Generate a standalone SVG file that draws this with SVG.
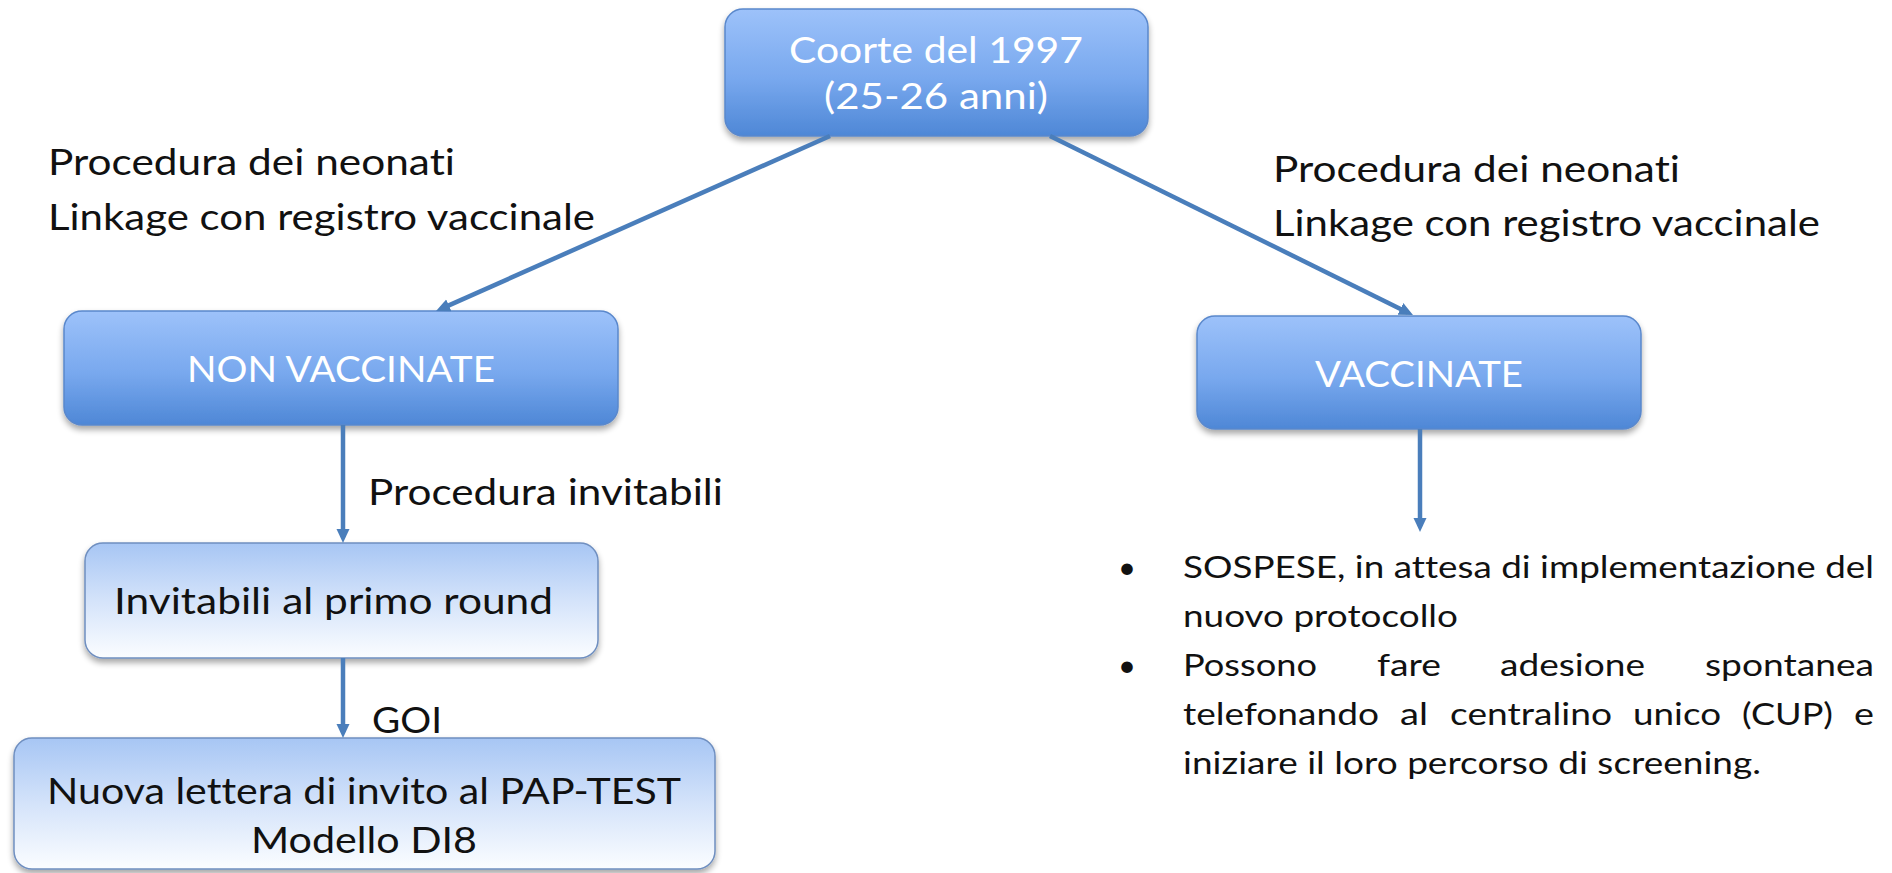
<svg xmlns="http://www.w3.org/2000/svg" width="1892" height="873" viewBox="0 0 1892 873">
<style>
  text { font-variant-ligatures: none; font-feature-settings: "liga" 0, "clig" 0, "dlig" 0; letter-spacing: 0.01px; }
  .lbl { font-family: Lato, "Open Sans", "Liberation Sans", sans-serif; font-size: 36px; fill: #111111; }
  .wt { font-family: Lato, "Open Sans", "Liberation Sans", sans-serif; font-size: 36px; fill: #ffffff; }
  .blt { font-family: Lato, "Open Sans", "Liberation Sans", sans-serif; font-size: 31px; fill: #111111; }
  .bluebox { fill: url(#gBlue); stroke: #5a88cc; stroke-width: 1.5; filter: url(#shadow); }
  .lightbox { fill: url(#gLight); stroke: #6f8fc0; stroke-width: 1.5; filter: url(#shadow); }
  .conn { stroke: #4a7ebb; stroke-width: 4.5; fill: none; marker-end: url(#arr); }
</style>
<defs>
  <linearGradient id="gBlue" x1="0" y1="0" x2="0" y2="1">
    <stop offset="0" stop-color="#9dc2fa"/>
    <stop offset="0.55" stop-color="#78a8ee"/>
    <stop offset="1" stop-color="#4e87d6"/>
  </linearGradient>
  <linearGradient id="gLight" x1="0" y1="0" x2="0" y2="1">
    <stop offset="0" stop-color="#a7c6f4"/>
    <stop offset="0.5" stop-color="#d4e3fa"/>
    <stop offset="1" stop-color="#fbfdff"/>
  </linearGradient>
  <filter id="shadow" x="-10%" y="-10%" width="120%" height="130%">
    <feGaussianBlur in="SourceAlpha" stdDeviation="3"/>
    <feOffset dx="0" dy="4" result="b"/>
    <feComponentTransfer><feFuncA type="linear" slope="0.35"/></feComponentTransfer>
    <feMerge><feMergeNode/><feMergeNode in="SourceGraphic"/></feMerge>
  </filter>
  <marker id="arr" markerUnits="userSpaceOnUse" markerWidth="16" markerHeight="14" refX="8" refY="6.5" orient="auto">
    <path d="M0,0 L14,6.5 L0,13 z" fill="#4a7ebb"/>
  </marker>
</defs>
<rect width="1892" height="873" fill="#ffffff"/>

<g id="node-coorte">
  <rect class="bluebox" x="725" y="9" width="423" height="127" rx="18"/>
  <text class="wt" x="936" y="63" text-anchor="middle" textLength="294" lengthAdjust="spacingAndGlyphs">Coorte del 1997</text>
  <text class="wt" x="936" y="109" text-anchor="middle" textLength="224" lengthAdjust="spacingAndGlyphs">(25-26 anni)</text>
</g>

<g id="label-left">
  <text class="lbl" x="48" y="175" textLength="407" lengthAdjust="spacingAndGlyphs">Procedura dei neonati</text>
  <text class="lbl" x="48" y="230" textLength="547" lengthAdjust="spacingAndGlyphs">Linkage con registro vaccinale</text>
</g>

<g id="label-right">
  <text class="lbl" x="1273" y="182" textLength="407" lengthAdjust="spacingAndGlyphs">Procedura dei neonati</text>
  <text class="lbl" x="1273" y="236" textLength="547" lengthAdjust="spacingAndGlyphs">Linkage con registro vaccinale</text>
</g>

<g id="node-nonvacc">
  <rect class="bluebox" x="64" y="311" width="554" height="114" rx="18"/>
  <text class="wt" x="341" y="382" text-anchor="middle" textLength="308" lengthAdjust="spacingAndGlyphs">NON VACCINATE</text>
</g>

<g id="node-vacc">
  <rect class="bluebox" x="1197" y="316" width="444" height="113" rx="18"/>
  <text class="wt" x="1419" y="387" text-anchor="middle" textLength="208" lengthAdjust="spacingAndGlyphs">VACCINATE</text>
</g>

<g id="label-invitabili">
  <text class="lbl" x="368" y="505" textLength="355" lengthAdjust="spacingAndGlyphs">Procedura invitabili</text>
</g>

<g id="node-invitabili">
  <rect class="lightbox" x="85" y="543" width="513" height="115" rx="18"/>
  <text class="lbl" x="114" y="614" textLength="439" lengthAdjust="spacingAndGlyphs">Invitabili al primo round</text>
</g>

<g id="label-goi">
  <text class="lbl" x="372" y="733" textLength="70" lengthAdjust="spacingAndGlyphs">GOI</text>
</g>

<g id="node-lettera">
  <rect class="lightbox" x="14" y="738" width="701" height="131" rx="18"/>
  <text class="lbl" x="364" y="804" text-anchor="middle" textLength="634" lengthAdjust="spacingAndGlyphs">Nuova lettera di invito al PAP-TEST</text>
  <text class="lbl" x="364" y="853" text-anchor="middle" textLength="226" lengthAdjust="spacingAndGlyphs">Modello DI8</text>
</g>

<g id="bullets">
  <text class="blt" x="1118" y="578">•</text>
  <text class="blt" x="1183" y="578" textLength="691" lengthAdjust="spacingAndGlyphs">SOSPESE, in attesa di implementazione del</text>
  <text class="blt" x="1183" y="627" textLength="275" lengthAdjust="spacingAndGlyphs">nuovo protocollo</text>
  <text class="blt" x="1118" y="676">•</text>
  <text class="blt" x="1183" y="676" textLength="134" lengthAdjust="spacingAndGlyphs">Possono</text>
  <text class="blt" x="1377" y="676" textLength="64" lengthAdjust="spacingAndGlyphs">fare</text>
  <text class="blt" x="1500" y="676" textLength="145" lengthAdjust="spacingAndGlyphs">adesione</text>
  <text class="blt" x="1705" y="676" textLength="169" lengthAdjust="spacingAndGlyphs">spontanea</text>
  <text class="blt" x="1183" y="725" textLength="196" lengthAdjust="spacingAndGlyphs">telefonando</text>
  <text class="blt" x="1400" y="725" textLength="28" lengthAdjust="spacingAndGlyphs">al</text>
  <text class="blt" x="1450" y="725" textLength="162" lengthAdjust="spacingAndGlyphs">centralino</text>
  <text class="blt" x="1633" y="725" textLength="88" lengthAdjust="spacingAndGlyphs">unico</text>
  <text class="blt" x="1742" y="725" textLength="91" lengthAdjust="spacingAndGlyphs">(CUP)</text>
  <text class="blt" x="1854" y="725" textLength="20" lengthAdjust="spacingAndGlyphs">e</text>
  <text class="blt" x="1183" y="774" textLength="578" lengthAdjust="spacingAndGlyphs">iniziare il loro percorso di screening.</text>
</g>

<g id="connectors">
  <line class="conn" x1="830" y1="136" x2="441.5" y2="308.6"/>
  <line class="conn" x1="1050" y1="136" x2="1407.6" y2="312.4"/>
  <line class="conn" x1="343" y1="425" x2="343" y2="537"/>
  <line class="conn" x1="343" y1="658" x2="343" y2="732"/>
  <line class="conn" x1="1420" y1="429" x2="1420" y2="526"/>
</g>
</svg>
